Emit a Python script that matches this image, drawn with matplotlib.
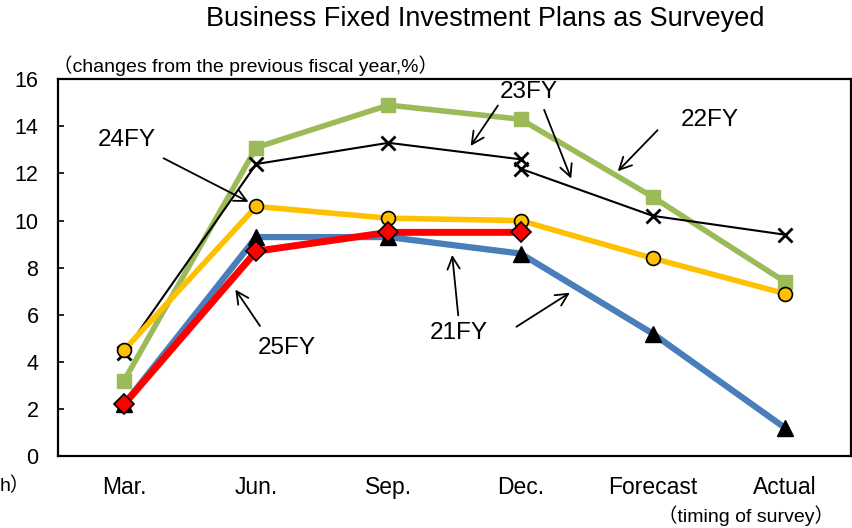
import numpy as np
import matplotlib
matplotlib.use('Agg')
import matplotlib.pyplot as plt

plt.rcParams['font.family'] = ['Liberation Sans', 'Noto Sans CJK JP', 'DejaVu Sans']

OUT_FILE = 'out.png'

# survey timing categories
categories = ['Mar.', 'Jun.', 'Sep.', 'Dec.', 'Forecast', 'Actual']

# changes from previous fiscal year (%)
fy21 = [2.2, 9.3, 9.3, 8.6, 5.2, 1.2]
fy22 = [3.2, 13.1, 14.9, 14.3, 11.0, 7.4]
fy23_first = [4.4, 12.4, 13.3, 12.6]     # Mar. .. Dec. (before revision)
fy23_second = [12.2, 10.2, 9.4]          # Dec. (revised) .. Actual
fy24 = [4.5, 10.6, 10.1, 10.0, 8.4, 6.9]
fy25 = [2.2, 8.7, 9.5, 9.5]

x = np.arange(len(categories))

fig = plt.figure(figsize=(8.52, 5.28), dpi=100)
ax = fig.add_axes([0.068, 0.136, 0.931, 0.714])

ax.plot(x, fy22, color='#9BBB59', lw=4, marker='s', ms=10, mfc='#9BBB59', mec='#9BBB59', zorder=2)
ax.plot(x[:4], fy23_first, color='black', lw=1.5, marker='x', ms=10, mew=2, zorder=3)
ax.plot(x[3:], fy23_second, color='black', lw=1.5, marker='x', ms=10, mew=2, zorder=3)
ax.plot(x, fy24, color='#FFC000', lw=4, marker='o', ms=10, mfc='#FFC000', mec='black', mew=1.2, zorder=4)
ax.plot(x, fy21, color='#4A7EBB', lw=4.5, marker='^', ms=11, mfc='black', mec='black', zorder=5)
ax.plot(x[:4], fy25, color='#FF0000', lw=5, marker='D', ms=10, mfc='#FF0000', mec='black', mew=1.2, zorder=6)

ax.set_xlim(-0.5, 5.5)
ax.set_ylim(0, 16)
ax.set_yticks(np.arange(0, 17, 2))
ax.set_xticks(x)
ax.set_xticklabels(categories)
ax.tick_params(axis='y', direction='in', length=4, width=1.2, pad=14, labelsize=15.5)
ax.tick_params(axis='x', length=0, pad=14, labelsize=16.5)
for s in ax.spines.values():
    s.set_linewidth(1.6)

# series labels with arrows
arrow = dict(arrowstyle='->', color='black', lw=1.3, mutation_scale=22)
fs = 17.5
ax.text(0.02, 13.4, '24FY', fontsize=fs, ha='center', va='center')
ax.annotate('', xy=(0.96, 10.74), xytext=(0.28, 12.7), arrowprops=arrow)
ax.text(3.06, 15.45, '23FY', fontsize=fs, ha='center', va='center')
ax.annotate('', xy=(2.61, 13.07), xytext=(2.84, 14.98), arrowprops=arrow)
ax.annotate('', xy=(3.39, 11.67), xytext=(3.17, 14.81), arrowprops=arrow)
ax.text(4.43, 14.26, '22FY', fontsize=fs, ha='center', va='center')
ax.annotate('', xy=(3.72, 12.01), xytext=(4.05, 13.92), arrowprops=arrow)
ax.text(1.23, 4.58, '25FY', fontsize=fs, ha='center', va='center')
ax.annotate('', xy=(0.83, 7.17), xytext=(1.04, 5.43), arrowprops=arrow)
ax.text(2.53, 5.22, '21FY', fontsize=fs, ha='center', va='center')
ax.annotate('', xy=(2.48, 8.66), xytext=(2.53, 5.86), arrowprops=arrow)
ax.annotate('', xy=(3.39, 7.0), xytext=(2.95, 5.43), arrowprops=arrow)

fig.text(0.57, 0.964, 'Business Fixed Investment Plans as Surveyed', fontsize=19.5, ha='center', va='center')
fig.text(0.062, 0.875, '（changes from the previous fiscal year,%）', fontsize=14, ha='left', va='center')
fig.text(0.979, 0.024, '（timing of survey）', fontsize=14, ha='right', va='center')
fig.text(0.0, 0.08, 'h）', fontsize=14, ha='left', va='center')

fig.savefig(OUT_FILE)
